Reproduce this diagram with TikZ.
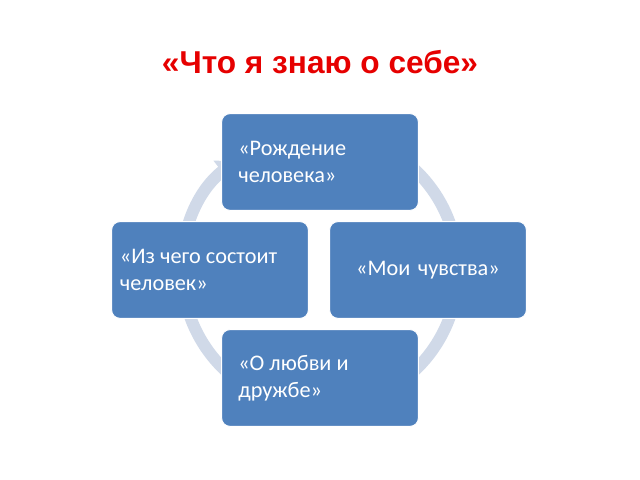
\documentclass[tikz,border=0pt]{standalone}
\usepackage{fontspec}
\setmainfont{Carlito}
\newfontfamily\titlefont{Liberation Sans}
\usetikzlibrary{positioning,arrows.meta}
\definecolor{boxblue}{RGB}{79,129,189}
\definecolor{ringblue}{RGB}{208,217,232}
\definecolor{titlered}{RGB}{230,0,0}

\begin{document}
\begin{tikzpicture}[
  x=0.03cm, y=0.03cm,
  stage/.style={rectangle, rounded corners=2.5mm, fill=boxblue, draw=white, line width=0.8pt,
    minimum width=5.9cm, minimum height=2.9cm, text width=4.9cm, align=flush left,
    font=\fontsize{19}{23}\selectfont\color{white}},
  ring/.style={ringblue, line width=3.6mm, -{Triangle[length=5mm, width=8mm]}}
]
  \useasboundingbox (0,0) rectangle (640,480);
  \node (title) at (320,418) [font=\titlefont\bfseries\fontsize{27}{32}\selectfont, text=titlered] {«Что я знаю о себе»};

  % ring behind the stages
  \draw[ring] (320,210) ++(470:138) arc[start angle=470, end angle=128, radius=138];

  \node (birth) at (320,318) [stage] {«Рождение\\человека»};
  \node (feel)  at (428,210) [stage, align=center] {«Мои чувства»};
  \node (love)  at (320,102) [stage] {«О любви и\\дружбе»};
  \node (body)  at (210,210) [stage, text width=5.4cm] {«Из чего состоит\\человек»};
\end{tikzpicture}
\end{document}
